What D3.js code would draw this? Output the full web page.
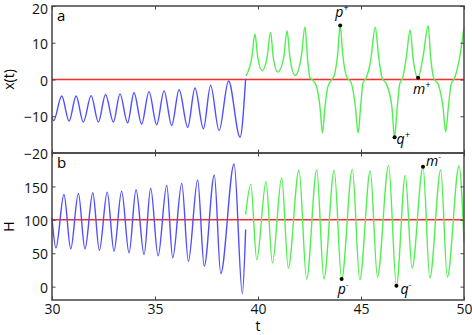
<!DOCTYPE html>
<html>
<head>
<meta charset="utf-8">
<script src="https://cdn.jsdelivr.net/npm/d3@7"></script>
<style>
  body { margin: 0; background: #fff; }
  svg text { font-family: "Open Sans", sans-serif; }
</style>
</head>
<body>
<svg id="chart"></svg>
<script>
// values: [t, value]
const tTicks = [30, 35, 40, 45, 50];
const xTicks = [-20, -10, 0, 10, 20];
const hTicks = [0, 50, 100, 150];

const xBlue = [[30, -10.3], [30.08, -11.2], [30.47, -4.5], [30.83, -11.3], [31.17, -4.5], [31.52, -11.6],
  [31.9, -4.4], [32.25, -11.6], [32.6, -4.1], [32.98, -11.6], [33.3, -3.9], [33.67, -11.8],
  [33.98, -3.6], [34.35, -12.1], [34.71, -3.3], [35.08, -12.3], [35.44, -3.1], [35.81, -12.5],
  [36.17, -2.8], [36.59, -13], [36.94, -2.3], [37.35, -13.4], [37.7, -1.6], [38.11, -13.9],
  [38.57, -0.4], [39.13, -15.7], [39.4, 0.2]];

const xGreen = [[39.42, 1.0], [39.7, 6.0], [39.85, 12.4], [39.99, 6.0], [40.2, 2.4], [40.44, 6.0],
  [40.61, 12.9], [40.74, 6.0], [40.96, 2.0], [41.25, 6.0], [41.41, 13.3], [41.55, 6.0], [41.8, 1.1],
  [42.12, 7.0], [42.28, 14.4], [42.41, 5.2], [42.52, 0.5], [42.68, -0.3], [42.85, -2.1], [43.01, -7.5],
  [43.13, -14.6], [43.25, -7.5], [43.38, -2.2], [43.54, -0.3], [43.7, 1.1], [43.87, 7.0], [43.99, 14.7],
  [44.11, 7.0], [44.31, 0.6], [44.51, -0.7], [44.73, -7.5], [44.86, -14.6], [44.98, -7.5], [45.1, -0.9],
  [45.26, 0.5], [45.47, 5.2], [45.69, 14.2], [45.86, 6.1], [46.02, 0.5], [46.23, -1.2], [46.5, -7.5],
  [46.63, -15.7], [46.76, -7.5], [46.88, -1.2], [47.04, 0.8], [47.2, 6.1], [47.39, 13.5], [47.52, 6.1],
  [47.77, 0.45], [48.01, 6.1], [48.26, 14.6], [48.38, 6.1], [48.54, 0.2], [48.74, -1.2], [48.98, -7.5],
  [49.11, -14.3], [49.24, -7.5], [49.38, -1.2], [49.55, 0.5], [49.79, 6.1], [50.0, 14.2]];

const hBlue = [[30, 103], [30.19, 58], [30.58, 138], [30.91, 56.5], [31.28, 139.5], [31.6, 56.5],
  [31.98, 140.5], [32.3, 54.5], [32.68, 141.5], [33.01, 53], [33.38, 143], [33.74, 50.5],
  [34.08, 145], [34.47, 48], [34.79, 147.5], [35.15, 46], [35.57, 151.5], [35.86, 43],
  [36.3, 154.5], [36.62, 38], [37.07, 159.5], [37.39, 30.5], [37.88, 167], [38.19, 19.5],
  [38.84, 183.5], [39.24, -10.5], [39.4, 85.5]];

const hGreen = [[39.4, 108], [39.65, 153], [39.94, 40.5], [40.39, 157], [40.7, 35.5], [41.15, 163],
  [41.47, 28], [41.99, 174.5], [42.36, 11.5], [42.85, 174.5], [43.2, 11.5], [43.7, 174],
  [44.06, 11.5], [44.58, 175.5], [44.94, 10.5], [45.45, 173], [45.8, 14.5], [46.34, 181.5],
  [46.72, 1.5], [47.15, 166.5], [47.48, 28], [48.01, 179.5], [48.34, 13], [48.87, 174.5],
  [49.19, 14.5], [49.76, 180.5], [50, 68]];

// marked points and their names
const pointsA = [{ t: 43.99, v: 14.7, name: "p", sign: "+", dx: -5, dy: -8 },
  { t: 46.63, v: -15.7, name: "q", sign: "+", dx: 2, dy: 7 },
  { t: 47.77, v: 0.45, name: "m", sign: "+", dx: -5, dy: 16 }];
const pointsB = [{ t: 44.06, v: 11.5, name: "p", sign: "-", dx: -4, dy: 15 },
  { t: 46.72, v: 1.5, name: "q", sign: "-", dx: 4, dy: 8 },
  { t: 48.01, v: 179.5, name: "m", sign: "-", dx: 3, dy: -1 }];

const width = 472, height = 335;
const left = 52, right = 464;
const svg = d3.select("#chart").attr("width", width).attr("height", height);

const x = d3.scaleLinear([30, 50], [left, right]);
const ya = d3.scaleLinear([-20, 20], [153, 6]);
const yb = d3.scaleLinear([-20, 200], [300, 153]);

const blue = "#4f4fff", green = "#52ef52", red = "#ff2a2a";

function panel(y, ticks, series, refValue, pts, letter, ylabel, showX) {
    const [y0, y1] = y.range();
    const g = svg.append("g");

    g.append("line")
        .attr("x1", left).attr("x2", right)
        .attr("y1", y(refValue)).attr("y2", y(refValue))
        .attr("stroke", red).attr("stroke-width", 1.4);

    const line = d3.line()
        .x(d => x(d[0]))
        .y(d => y(d[1]))
        .curve(d3.curveMonotoneX);

    series.forEach(s => {
        g.append("path")
            .datum(s.data)
            .attr("fill", "none")
            .attr("stroke", s.color)
            .attr("stroke-width", 1.4)
            .attr("d", line);
    });

    // inward ticks on all four sides
    g.append("g").attr("transform", `translate(${left},0)`)
        .call(d3.axisLeft(y).tickValues(ticks).tickSize(-3.5).tickPadding(4))
        .selectAll("text")
            .attr("dy", d => y(d) < 10 ? "0.52em" : "0.4em");
    g.append("g").attr("transform", `translate(${right},0)`)
        .call(d3.axisRight(y).tickValues(ticks).tickSize(-3.5).tickFormat(""));
    g.append("g").attr("transform", `translate(0,${y1})`)
        .call(d3.axisTop(x).tickValues(tTicks).tickSize(-3.5).tickFormat(""));
    g.append("g").attr("transform", `translate(0,${y0})`)
        .call(d3.axisBottom(x).tickValues(tTicks).tickSize(-3.5).tickPadding(4)
            .tickFormat(showX ? d3.format("d") : ""));

    g.selectAll(".domain").remove();
    g.selectAll(".tick line").attr("stroke", "#444");
    g.selectAll(".tick text").attr("font-size", 14).attr("fill", "#111");

    g.append("rect")
        .attr("x", left).attr("y", y1)
        .attr("width", right - left).attr("height", y0 - y1)
        .attr("fill", "none").attr("stroke", "#444").attr("stroke-width", 1.5);

    g.append("text")
        .attr("x", 57).attr("y", y1 + 15)
        .attr("font-size", 15)
        .text(letter);

    g.append("text")
        .attr("transform", `translate(14,${(y0 + y1) / 2}) rotate(-90)`)
        .attr("text-anchor", "middle")
        .attr("font-size", 14)
        .text(ylabel);

    pts.forEach(p => {
        g.append("circle")
            .attr("cx", x(p.t)).attr("cy", y(p.v))
            .attr("r", 2).attr("fill", "#000");
        const label = g.append("text")
            .attr("x", x(p.t) + p.dx).attr("y", y(p.v) + p.dy)
            .attr("font-size", 14).attr("font-style", "italic")
            .text(p.name);
        label.append("tspan")
            .attr("dy", -6).attr("font-size", 9)
            .text(p.sign);
    });
}

panel(ya, xTicks, [{ data: xBlue, color: blue }, { data: xGreen, color: green }], 0, pointsA, "a", "x(t)", false);
panel(yb, hTicks, [{ data: hBlue, color: blue }, { data: hGreen, color: green }], 100, pointsB, "b", "H", true);

svg.append("text")
    .attr("x", x(40)).attr("y", 331)
    .attr("text-anchor", "middle")
    .attr("font-size", 14)
    .text("t");
</script>
</body>
</html>
